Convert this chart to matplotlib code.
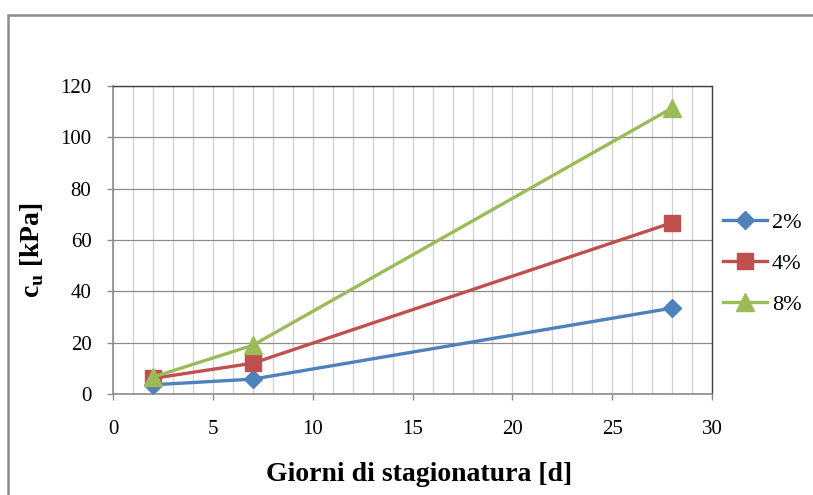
import matplotlib.pyplot as plt
from matplotlib.ticker import MultipleLocator
from matplotlib.patches import Rectangle

plt.rcParams['font.family'] = ['Liberation Serif', 'DejaVu Serif']
plt.rcParams['mathtext.fontset'] = 'custom'
plt.rcParams['mathtext.rm'] = 'Liberation Serif'
plt.rcParams['mathtext.bf'] = 'Liberation Serif:bold'

# dati
giorni = [2, 7, 28]
cu_2 = [3.6, 5.8, 33.5]
cu_4 = [6.1, 12.0, 66.8]
cu_8 = [6.6, 19.0, 111.5]
etichette = ['2%', '4%', '8%']

colori = ['#4F81BD', '#C0504D', '#9BBB59']
marker = ['D', 's', '^']
msize = [9.5, 12, 12.5]

fig = plt.figure(figsize=(8.13, 4.95), dpi=100)
ax = fig.add_axes([0.139, 0.204, 0.737, 0.622])

for serie, col, mk, ms, lab in zip([cu_2, cu_4, cu_8], colori, marker, msize, etichette):
    ax.plot(giorni, serie, color=col, marker=mk, markersize=ms, linewidth=2.4,
            markeredgecolor=col, label=lab, zorder=3)

ax.set_xlim(0, 30)
ax.set_ylim(0, 120)
ax.xaxis.set_major_locator(MultipleLocator(5))
ax.xaxis.set_minor_locator(MultipleLocator(1))
ax.yaxis.set_major_locator(MultipleLocator(20))

ax.grid(True, which='major', axis='y', color='#8c8c8c', linewidth=0.9)
ax.grid(True, which='both', axis='x', color='#d0d0d0', linewidth=0.9)
ax.set_axisbelow(True)

ax.tick_params(axis='both', which='major', direction='out', length=4.5, width=1,
               color='#8c8c8c', labelsize=15)
ax.tick_params(axis='x', which='major', pad=14)
ax.tick_params(axis='y', which='major', pad=11)
ax.tick_params(axis='x', which='minor', length=0)

for s in ['left', 'bottom']:
    ax.spines[s].set_color('#8c8c8c')
    ax.spines[s].set_linewidth(1.2)
for s in ['top', 'right']:
    ax.spines[s].set_color('#404040')
    ax.spines[s].set_linewidth(1.0)

ax.set_xlabel('Giorni di stagionatura [d]', fontsize=20, fontweight='bold')
ax.set_ylabel(r'c$_\mathbf{u}$ [kPa]', fontsize=20, fontweight='bold')
ax.xaxis.set_label_coords(0.511, -0.22)
ax.yaxis.set_label_coords(-0.111, 0.468)

ax.legend(loc='center left', bbox_to_anchor=(0.889, 0.468), bbox_transform=fig.transFigure,
          frameon=False, fontsize=16, handlelength=2.0, handletextpad=0.2,
          labelspacing=0.92, borderaxespad=0, borderpad=0)

# cornice del grafico
fig.patches.append(Rectangle((8 / 813, -0.05), 1.1, 1 - 15 / 495 + 0.05,
                             transform=fig.transFigure, fill=False,
                             edgecolor='#8c8c8c', linewidth=1.8))

fig.savefig('out.png', dpi=100)
